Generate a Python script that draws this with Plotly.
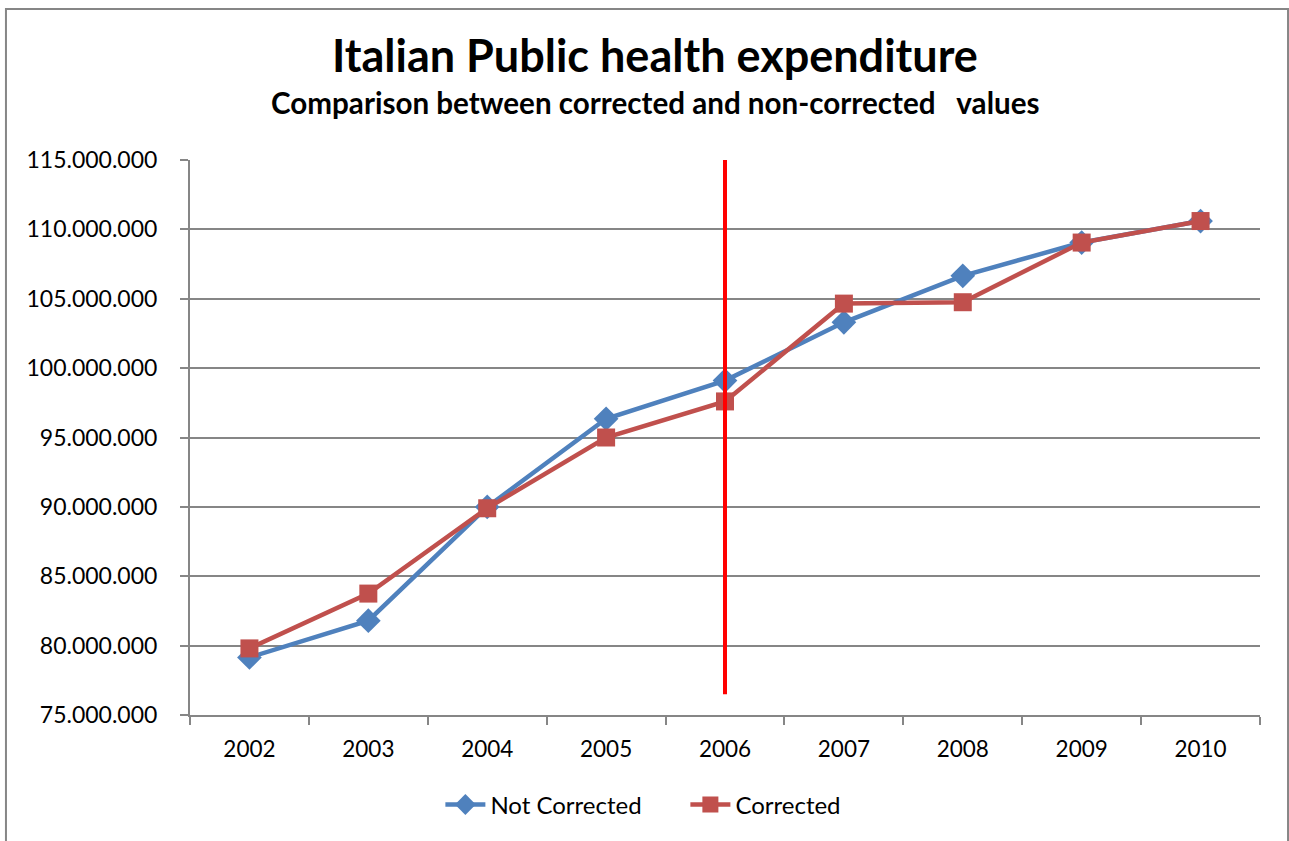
import plotly.graph_objects as go

years = ["2002", "2003", "2004", "2005", "2006", "2007", "2008", "2009", "2010"]
not_corrected = [79150000, 81800000, 90000000, 96350000, 99100000, 103300000, 106650000, 109050000, 110600000]
corrected = [79800000, 83750000, 89900000, 95000000, 97600000, 104650000, 104750000, 109050000, 110600000]
y_ticks = [75000000, 80000000, 85000000, 90000000, 95000000, 100000000, 105000000, 110000000, 115000000]
break_year = "2006"
break_range = [76500000, 115000000]

FONT = "Lato"
BLUE = "#4F81BD"
RED = "#C0504D"
GRID = "#868686"

fig = go.Figure()
fig.add_trace(go.Scatter(
    x=years, y=not_corrected, name="Not Corrected", mode="lines+markers",
    line=dict(color=BLUE, width=4.5),
    marker=dict(symbol="diamond", size=19, color=BLUE),
))
fig.add_trace(go.Scatter(
    x=years, y=corrected, name="Corrected", mode="lines+markers",
    line=dict(color=RED, width=4.5),
    marker=dict(symbol="square", size=18, color=RED),
))

# vertical marker for the correction year (category index on the x axis)
bx = years.index(break_year)
fig.add_shape(type="line", xref="x", yref="y",
              x0=bx, x1=bx, y0=break_range[0], y1=break_range[1],
              line=dict(color="#FF0000", width=4), layer="above")

# outer chart frame
fig.add_shape(type="rect", xref="paper", yref="paper",
              x0=-0.172, x1=1.0262, y0=-0.3, y1=1.272,
              line=dict(color=GRID, width=2), fillcolor="rgba(0,0,0,0)")

fig.add_annotation(text="<b>Italian Public health expenditure</b>", xref="paper", yref="paper",
                   x=0.4346, y=1.189, xanchor="center", yanchor="middle", showarrow=False,
                   font=dict(family=FONT, size=45, color="black"))
fig.add_annotation(text="<b>Comparison between corrected and non-corrected\u00a0\u00a0\u00a0values</b>",
                   xref="paper", yref="paper", x=0.4346, y=1.103, xanchor="center", yanchor="middle",
                   showarrow=False, font=dict(family=FONT, size=29.6, color="black"))

fig.update_layout(
    width=1289, height=841,
    margin=dict(l=190, r=29, t=160, b=126),
    paper_bgcolor="white", plot_bgcolor="white",
    separators=",.",
    font=dict(family=FONT, size=23, color="black"),
    showlegend=True,
    legend=dict(orientation="h", x=0.234, y=-0.162, xanchor="left", yanchor="middle",
                font=dict(family=FONT, size=24), itemwidth=40,
                entrywidth=190, entrywidthmode="pixels"),
    xaxis=dict(type="category", showline=True, linecolor=GRID, linewidth=2,
               ticks="outside", ticklen=8, tickcolor=GRID, tickwidth=2,
               tickson="boundaries", showgrid=False, tickfont=dict(size=22.5),
               range=[-0.5, 8.5], ticklabelstandoff=13),
    yaxis=dict(range=[75000000, 115000000], tickvals=y_ticks, tickformat=",d",
               showline=True, linecolor=GRID, linewidth=2,
               ticks="outside", ticklen=8, tickcolor=GRID, tickwidth=2,
               showgrid=True, gridcolor=GRID, gridwidth=2, zeroline=False,
               tickfont=dict(size=23), ticklabelstandoff=18),
)

fig.write_html("out.html")
